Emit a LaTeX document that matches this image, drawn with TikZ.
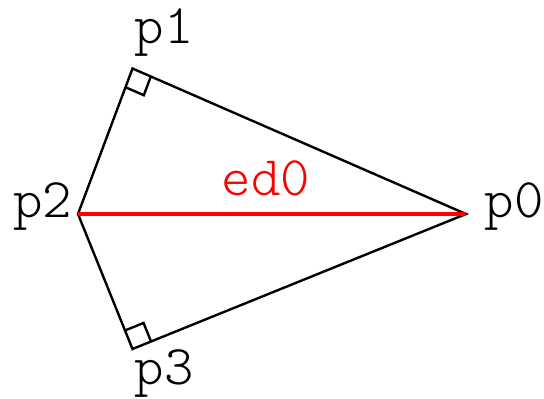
\documentclass[tikz,border=0pt]{standalone}
\usetikzlibrary{calc}
\begin{document}
\begin{tikzpicture}[x=1pt,y=-1pt,
  lbl/.style={font=\ttfamily\fontseries{l}\fontsize{56}{56}\selectfont, inner sep=0pt},
  edge/.style={line width=2.4pt, line join=miter},
  red edge/.style={line width=4.5pt, red},
  rmark/.style={line width=2.4pt}]
\useasboundingbox (0,0) rectangle (544,399);
\coordinate (p0) at (466,214);
\coordinate (p1) at (132.5,68.5);
\coordinate (p2) at (78,214);
\coordinate (p3) at (132.5,349);
\draw[edge] (p0) -- (p1) -- (p2) -- (p3) -- cycle;
\draw[red edge] (p2) -- (p0);
\draw[rmark] ($(p1)!20pt!(p0)$) -- ($(p1)!20pt!(p0) + (p1)!20pt!(p2) - (p1)$) -- ($(p1)!20pt!(p2)$);
\draw[rmark] ($(p3)!20pt!(p0)$) -- ($(p3)!20pt!(p0) + (p3)!20pt!(p2) - (p3)$) -- ($(p3)!20pt!(p2)$);
\node[lbl] (l1) at (164,33) {p1};
\node[lbl] (l2) at (43,207) {p2};
\node[lbl] (l0) at (514,207) {p0};
\node[lbl] (l3) at (164,374) {p3};
\node[lbl, text=red] (le) at (266,178) {ed0};
\end{tikzpicture}
\end{document}
